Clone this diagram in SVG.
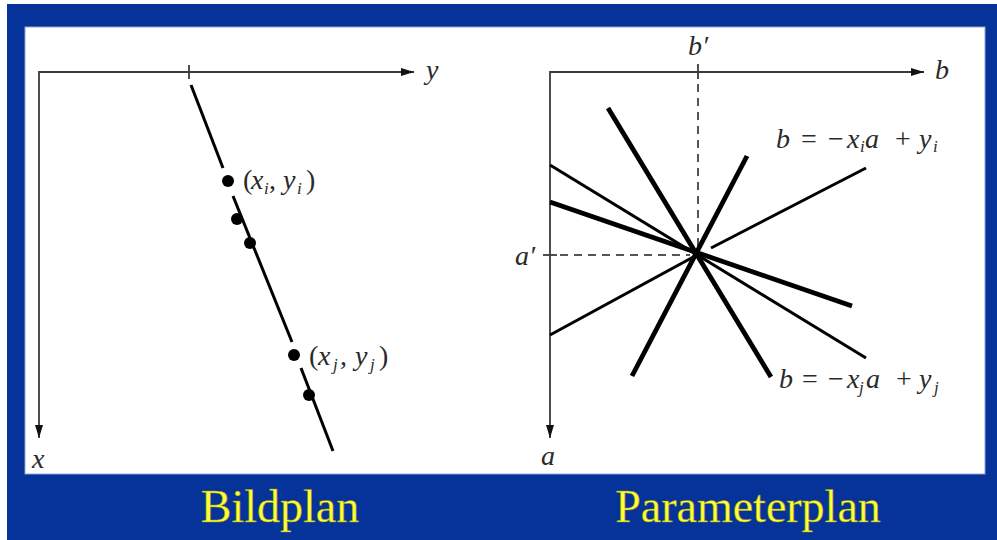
<svg xmlns="http://www.w3.org/2000/svg" width="997" height="540" viewBox="0 0 997 540">
<defs>
<style>
.axis{stroke:#3a3a3a;stroke-width:1.8;fill:none}
.thick{stroke:#000;stroke-width:4.8;stroke-linecap:butt}
.thin{stroke:#000;stroke-width:3}
.dash{stroke:#555;stroke-width:2;stroke-dasharray:8 6}
.lbl{font-family:"Liberation Serif","Times New Roman",serif;font-style:italic;font-size:28px;fill:#2a2a2a}
.up{font-style:normal}
.sub{font-size:17px}
.title{font-family:"Liberation Serif","Times New Roman",serif;font-size:46px;fill:#ffff33;stroke:#8a8a20;stroke-width:0.5}
.dot{fill:#000}
</style>
<marker id="arr" markerWidth="13" markerHeight="8" refX="13" refY="4" orient="auto" markerUnits="userSpaceOnUse">
<path d="M0,0 L13,4 L0,8 Z" fill="#111"/>
</marker>
</defs>
<rect x="0" y="0" width="997" height="540" fill="#fff"/>
<rect x="7" y="4" width="990" height="536" fill="#063399"/>
<rect x="25" y="27" width="960" height="447" fill="#fff" stroke="#8fa3d6" stroke-width="1"/>

<g id="bildplan">
<line class="axis" x1="39" y1="72" x2="414" y2="72" marker-end="url(#arr)"/>
<line class="axis" x1="39" y1="71" x2="39" y2="438" marker-end="url(#arr)"/>
<line class="axis" x1="189" y1="65" x2="189" y2="79"/>
<text class="lbl" x="426" y="79">y</text>
<text class="lbl" x="32" y="468">x</text>
<g id="line-xy">
<line class="thin" x1="191" y1="85" x2="223" y2="168" stroke-width="3.6"/>
<line class="thin" x1="233" y1="196" x2="292" y2="342" stroke-width="3.6"/>
<line class="thin" x1="301" y1="368" x2="333" y2="451" stroke-width="3.6"/>
</g>
<circle class="dot" cx="228" cy="181" r="6"/>
<circle class="dot" cx="237" cy="219" r="6"/>
<circle class="dot" cx="250" cy="243" r="6"/>
<circle class="dot" cx="294" cy="355" r="6"/>
<circle class="dot" cx="309" cy="395" r="6"/>
<text class="lbl" y="189"><tspan class="up" x="243">(</tspan><tspan x="251">x</tspan><tspan class="sub" x="264" dy="5">i</tspan><tspan class="up" x="269" dy="-5">,</tspan><tspan x="283">y</tspan><tspan class="sub" x="297" dy="5">i</tspan><tspan class="up" x="306" dy="-5">)</tspan></text>
<text class="lbl" y="365"><tspan class="up" x="309">(</tspan><tspan x="318">x</tspan><tspan class="sub" x="333" dy="5">j</tspan><tspan class="up" x="340" dy="-5">,</tspan><tspan x="355">y</tspan><tspan class="sub" x="370" dy="5">j</tspan><tspan class="up" x="379" dy="-5">)</tspan></text>
</g>

<g id="parameterplan">
<line class="axis" x1="550" y1="72" x2="924" y2="72" marker-end="url(#arr)"/>
<line class="axis" x1="550" y1="71" x2="550" y2="438" marker-end="url(#arr)"/>
<line class="axis" x1="698" y1="64" x2="698" y2="79"/>
<line class="axis" x1="543" y1="255" x2="557" y2="255"/>
<line class="dash" x1="698" y1="84" x2="698" y2="248"/>
<line class="dash" x1="560" y1="255" x2="690" y2="255"/>
<text class="lbl" x="935" y="79">b</text>
<text class="lbl" x="688" y="55">b′</text>
<text class="lbl" x="515" y="265">a′</text>
<text class="lbl" x="541" y="465">a</text>
<g id="lines">
<line class="thick" x1="608" y1="108" x2="771" y2="377"/>
<line class="thick" x1="747" y1="156" x2="632" y2="376"/>
<line class="thin" x1="550" y1="165" x2="866" y2="358"/>
<line class="thick" x1="550" y1="202" x2="852" y2="306"/>
<line class="thin" x1="866" y1="168" x2="711" y2="248"/>
<line class="thin" x1="697" y1="255" x2="550" y2="335"/>
</g>
<text class="lbl" y="148"><tspan x="776">b</tspan><tspan class="up" x="801">=</tspan><tspan class="up" x="828">−</tspan><tspan x="847">x</tspan><tspan class="sub" x="860" dy="4">i</tspan><tspan x="865" dy="-4">a</tspan><tspan class="up" x="895">+</tspan><tspan x="919">y</tspan><tspan class="sub" x="933" dy="4">i</tspan></text>
<text class="lbl" y="388"><tspan x="779">b</tspan><tspan class="up" x="802">=</tspan><tspan class="up" x="828">−</tspan><tspan x="847">x</tspan><tspan class="sub" x="859" dy="5">j</tspan><tspan x="866" dy="-5">a</tspan><tspan class="up" x="896">+</tspan><tspan x="919">y</tspan><tspan class="sub" x="934" dy="5">j</tspan></text>
</g>

<text class="title" x="280" y="522" text-anchor="middle">Bildplan</text>
<text class="title" x="748" y="522" text-anchor="middle">Parameterplan</text>
</svg>
